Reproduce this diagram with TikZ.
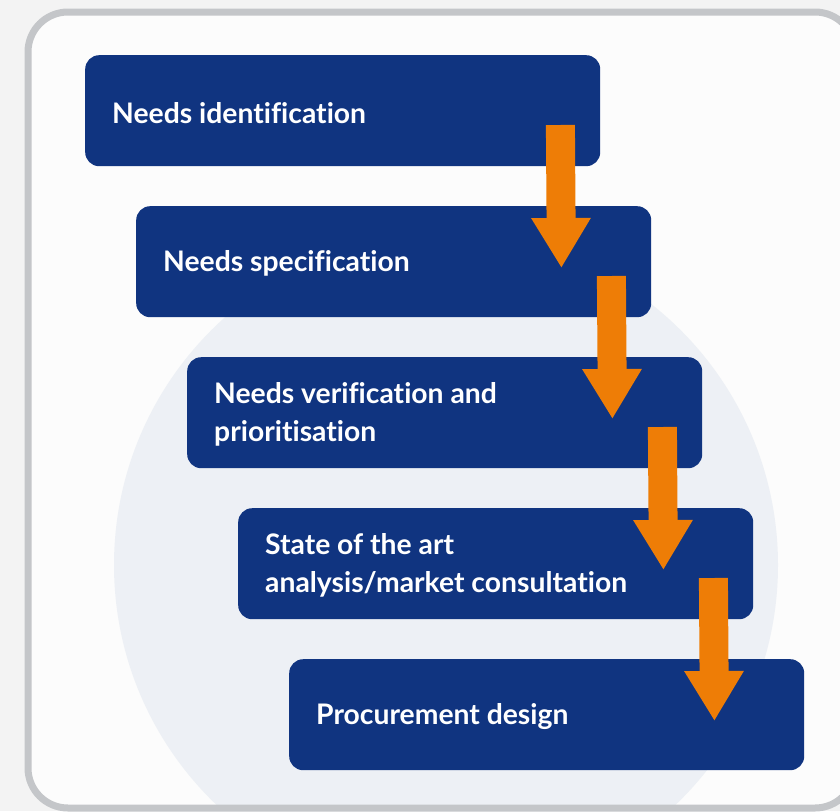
\documentclass[tikz,border=0pt]{standalone}
\usepackage{fontspec}
\setmainfont{Lato}[Ligatures=NoCommon]
\usetikzlibrary{calc,arrows.meta}
\definecolor{navy}{RGB}{16,52,128}
\definecolor{arroworange}{RGB}{238,125,6}
\definecolor{outsidegray}{RGB}{243,243,243}
\definecolor{insidewhite}{RGB}{252,252,252}
\definecolor{framegray}{RGB}{196,198,201}
\definecolor{circlefill}{RGB}{237,240,245}
\tikzset{
  stepbox/.style={fill=navy, rounded corners=14pt, anchor=north west,
    minimum width=515pt, minimum height=111pt, inner sep=0pt},
  steptext/.style={anchor=west, align=left, text=white, inner sep=0pt,
    font=\fontsize{28.3}{38}\selectfont\bfseries},
  flowarrow/.style={draw=arroworange, line width=29pt,
    -{Triangle[width=56pt,length=50pt]}}
}
\begin{document}
\begin{tikzpicture}[x=1pt,y=-1pt]
\useasboundingbox (0,0) rectangle (840,811);
\fill[outsidegray] (0,0) rectangle (840,811);
\fill[insidewhite, rounded corners=40pt] (28,12) rectangle (855,808);
\begin{scope}
\clip[rounded corners=40pt] (28,12) rectangle (855,808);
\fill[circlefill] (446,565) circle (332);
\end{scope}
\draw[framegray, line width=7pt, rounded corners=40pt] (28,12) rectangle (855,808);

\node[stepbox] (b1) at (85,55) {};
\node[stepbox] (b2) at (136,206) {};
\node[stepbox] (b3) at (187,357) {};
\node[stepbox] (b4) at (238,508) {};
\node[stepbox] (b5) at (289,659) {};
\node[steptext] (l1) at ($(b1.west)+(27,2)$) {Needs identification};
\node[steptext] (l2) at ($(b2.west)+(27,2)$) {Needs specification};
\node[steptext] (l3) at ($(b3.west)+(27,2)$) {Needs verification and\\prioritisation};
\node[steptext] (l4) at ($(b4.west)+(27,2)$) {State of the art\\analysis/market consultation};
\node[steptext] (l5) at ($(b5.west)+(27,2)$) {Procurement design};

\coordinate (s1) at ($(b1.north east)+(-40,70)$);
\coordinate (t1) at ($(b2.north east)+(-90,62)$);
\coordinate (s2) at ($(b2.north east)+(-40,70)$);
\coordinate (t2) at ($(b3.north east)+(-90,62)$);
\coordinate (s3) at ($(b3.north east)+(-40,70)$);
\coordinate (t3) at ($(b4.north east)+(-90,62)$);
\coordinate (s4) at ($(b4.north east)+(-40,70)$);
\coordinate (t4) at ($(b5.north east)+(-90,62)$);
\draw[flowarrow] (s1) -- (t1);
\draw[flowarrow] (s2) -- (t2);
\draw[flowarrow] (s3) -- (t3);
\draw[flowarrow] (s4) -- (t4);
\end{tikzpicture}
\end{document}
